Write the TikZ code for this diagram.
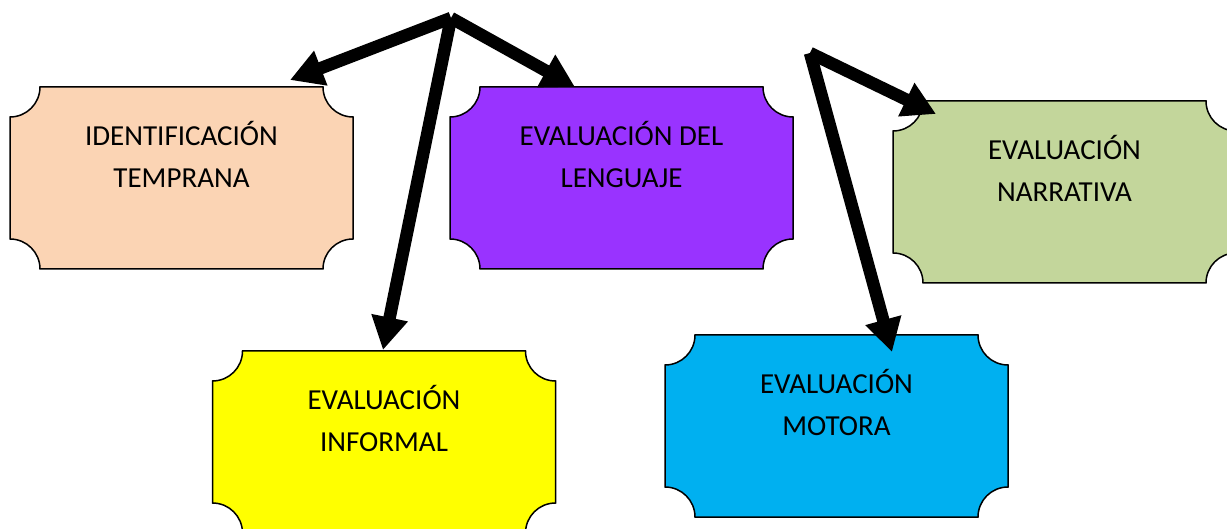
\documentclass[tikz,border=0pt]{standalone}
\usepackage{fontspec}
\setmainfont{Carlito}
\usetikzlibrary{arrows.meta,backgrounds}
\definecolor{peach}{HTML}{FBD4B4}
\definecolor{violet2}{HTML}{9933FF}
\definecolor{olive2}{HTML}{C3D69B}
\definecolor{sky2}{HTML}{00B0F0}
\definecolor{yel2}{HTML}{FFFF00}
\tikzset{
  plaquebox/.style={minimum width=343pt, minimum height=182pt, inner sep=0pt, outer sep=0pt},
  lbl/.style={align=center, font=\fontsize{29}{41.5}\selectfont, inner sep=0pt, text=black},
  plaqueline/.style={draw=black, line width=1.5pt},
  bigarrow/.style={line width=12.5pt, line cap=butt, -{Triangle[length=33pt,width=35pt]}},
}
\newcommand\plaqueshape[2]{%
  \path[plaqueline, fill=#2]
    ([xshift=30pt]#1.north west) -- ([xshift=-30pt]#1.north east)
    arc[start angle=180, end angle=270, radius=30pt]
    -- ([yshift=30pt]#1.south east)
    arc[start angle=90, end angle=180, radius=30pt]
    -- ([xshift=30pt]#1.south west)
    arc[start angle=0, end angle=90, radius=30pt]
    -- ([yshift=-30pt]#1.north west)
    arc[start angle=270, end angle=360, radius=30pt] -- cycle;}
\begin{document}
\begin{tikzpicture}[x=1pt,y=1pt]
\useasboundingbox (0,0) rectangle (1227,-529);
% boxes
\node[plaquebox] (ident) at (181.5,-178) {};
\node[plaquebox] (leng)  at (621.5,-178) {};
\node[plaquebox] (narr)  at (1064.5,-192) {};
\node[plaquebox] (inf)   at (384,-442) {};
\node[plaquebox] (mot)   at (836.5,-426) {};
\begin{scope}[on background layer]
  \plaqueshape{ident}{peach}
  \plaqueshape{leng}{violet2}
  \plaqueshape{narr}{olive2}
  \plaqueshape{inf}{yel2}
  \plaqueshape{mot}{sky2}
\end{scope}
% texts
\node[lbl] (identT) at ([yshift=-67.5pt]ident.north) {IDENTIFICACIÓN\\TEMPRANA};
\node[lbl] (lengT)  at ([yshift=-67.5pt]leng.north)  {EVALUACIÓN DEL\\LENGUAJE};
\node[lbl] (narrT)  at ([yshift=-67.5pt]narr.north)  {EVALUACIÓN\\NARRATIVA};
\node[lbl] (infT)   at ([yshift=-67.5pt]inf.north)   {EVALUACIÓN\\INFORMAL};
\node[lbl] (motT)   at ([yshift=-67.5pt]mot.north)   {EVALUACIÓN\\MOTORA};
% arrows
\coordinate (apexA) at (451,-18);
\coordinate (apexB) at (810,-53);
\coordinate (tipIdent) at (290,-80);
\coordinate (tipLeng) at (575,-87);
\coordinate (tipInf) at (383,-350);
\coordinate (tipNarr) at (936,-114);
\coordinate (tipMot) at (892,-352);
\draw[bigarrow] (apexA) -- (tipIdent);
\draw[bigarrow] (apexA) -- (tipLeng);
\draw[bigarrow] (apexA) -- (tipInf);
\draw[bigarrow] (apexB) -- (tipNarr);
\draw[bigarrow] (apexB) -- (tipMot);
\end{tikzpicture}
\end{document}
